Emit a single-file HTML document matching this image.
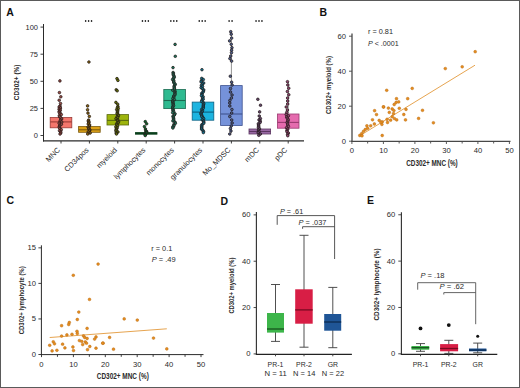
<!DOCTYPE html>
<html><head><meta charset="utf-8"><style>
html,body{margin:0;padding:0;background:#fff;}
svg{display:block;font-family:"Liberation Sans", sans-serif;}
</style></head><body>
<svg width="520" height="388" viewBox="0 0 520 388">
<rect width="520" height="388" fill="#fff"/>
<text x="6.30" y="15.90" font-size="10.5" text-anchor="start" font-weight="bold" font-style="normal" fill="#111" textLength="7.58" lengthAdjust="spacingAndGlyphs" >A</text>
<text x="319.60" y="15.80" font-size="10.5" text-anchor="start" font-weight="bold" font-style="normal" fill="#111" textLength="7.58" lengthAdjust="spacingAndGlyphs" >B</text>
<text x="6.60" y="204.30" font-size="10.5" text-anchor="start" font-weight="bold" font-style="normal" fill="#111" textLength="7.58" lengthAdjust="spacingAndGlyphs" >C</text>
<text x="220.60" y="204.60" font-size="10.5" text-anchor="start" font-weight="bold" font-style="normal" fill="#111" textLength="7.58" lengthAdjust="spacingAndGlyphs" >D</text>
<text x="367.00" y="204.30" font-size="10.5" text-anchor="start" font-weight="bold" font-style="normal" fill="#111" textLength="7.00" lengthAdjust="spacingAndGlyphs" >E</text>
<line x1="43.50" y1="24.00" x2="43.50" y2="141.50" stroke="#2a2a2a" stroke-width="1"/>
<line x1="43.00" y1="140.85" x2="304.00" y2="140.85" stroke="#2a2a2a" stroke-width="1.25"/>
<line x1="40.50" y1="135.50" x2="43.50" y2="135.50" stroke="#2a2a2a" stroke-width="0.9"/>
<text x="38.00" y="137.95" font-size="6.8" text-anchor="end" font-weight="normal" font-style="normal" fill="#2a2a2a" textLength="4.16" lengthAdjust="spacingAndGlyphs" >0</text>
<line x1="40.50" y1="108.40" x2="43.50" y2="108.40" stroke="#2a2a2a" stroke-width="0.9"/>
<text x="38.00" y="110.85" font-size="6.8" text-anchor="end" font-weight="normal" font-style="normal" fill="#2a2a2a" textLength="8.32" lengthAdjust="spacingAndGlyphs" >25</text>
<line x1="40.50" y1="81.30" x2="43.50" y2="81.30" stroke="#2a2a2a" stroke-width="0.9"/>
<text x="38.00" y="83.75" font-size="6.8" text-anchor="end" font-weight="normal" font-style="normal" fill="#2a2a2a" textLength="8.32" lengthAdjust="spacingAndGlyphs" >50</text>
<line x1="40.50" y1="54.20" x2="43.50" y2="54.20" stroke="#2a2a2a" stroke-width="0.9"/>
<text x="38.00" y="56.65" font-size="6.8" text-anchor="end" font-weight="normal" font-style="normal" fill="#2a2a2a" textLength="8.32" lengthAdjust="spacingAndGlyphs" >75</text>
<line x1="40.50" y1="27.10" x2="43.50" y2="27.10" stroke="#2a2a2a" stroke-width="0.9"/>
<text x="38.00" y="29.55" font-size="6.8" text-anchor="end" font-weight="normal" font-style="normal" fill="#2a2a2a" textLength="12.48" lengthAdjust="spacingAndGlyphs" >100</text>
<line x1="61.00" y1="141.00" x2="61.00" y2="143.50" stroke="#2a2a2a" stroke-width="0.9"/>
<text transform="translate(56.70,146.60) rotate(-45)" font-size="7.4" text-anchor="end" fill="#2a2a2a" dominant-baseline="hanging">MNC</text>
<line x1="89.40" y1="141.00" x2="89.40" y2="143.50" stroke="#2a2a2a" stroke-width="0.9"/>
<text transform="translate(85.10,146.60) rotate(-45)" font-size="7.4" text-anchor="end" fill="#2a2a2a" dominant-baseline="hanging">CD34pos</text>
<line x1="117.80" y1="141.00" x2="117.80" y2="143.50" stroke="#2a2a2a" stroke-width="0.9"/>
<text transform="translate(113.50,146.60) rotate(-45)" font-size="7.4" text-anchor="end" fill="#2a2a2a" dominant-baseline="hanging">myeloid</text>
<line x1="146.20" y1="141.00" x2="146.20" y2="143.50" stroke="#2a2a2a" stroke-width="0.9"/>
<text transform="translate(141.90,146.60) rotate(-45)" font-size="7.4" text-anchor="end" fill="#2a2a2a" dominant-baseline="hanging">lymphocytes</text>
<line x1="174.60" y1="141.00" x2="174.60" y2="143.50" stroke="#2a2a2a" stroke-width="0.9"/>
<text transform="translate(170.30,146.60) rotate(-45)" font-size="7.4" text-anchor="end" fill="#2a2a2a" dominant-baseline="hanging">monocytes</text>
<line x1="203.00" y1="141.00" x2="203.00" y2="143.50" stroke="#2a2a2a" stroke-width="0.9"/>
<text transform="translate(198.70,146.60) rotate(-45)" font-size="7.4" text-anchor="end" fill="#2a2a2a" dominant-baseline="hanging">granulocytes</text>
<line x1="231.40" y1="141.00" x2="231.40" y2="143.50" stroke="#2a2a2a" stroke-width="0.9"/>
<text transform="translate(227.10,146.60) rotate(-45)" font-size="7.4" text-anchor="end" fill="#2a2a2a" dominant-baseline="hanging">Mo_MDSC</text>
<line x1="259.80" y1="141.00" x2="259.80" y2="143.50" stroke="#2a2a2a" stroke-width="0.9"/>
<text transform="translate(255.50,146.60) rotate(-45)" font-size="7.4" text-anchor="end" fill="#2a2a2a" dominant-baseline="hanging">mDC</text>
<line x1="288.20" y1="141.00" x2="288.20" y2="143.50" stroke="#2a2a2a" stroke-width="0.9"/>
<text transform="translate(283.90,146.60) rotate(-45)" font-size="7.4" text-anchor="end" fill="#2a2a2a" dominant-baseline="hanging">pDC</text>
<ellipse cx="85.65" cy="21" rx="0.8" ry="0.95" fill="#222"/>
<ellipse cx="88.60" cy="21" rx="0.8" ry="0.95" fill="#222"/>
<ellipse cx="91.55" cy="21" rx="0.8" ry="0.95" fill="#222"/>
<ellipse cx="142.45" cy="21" rx="0.8" ry="0.95" fill="#222"/>
<ellipse cx="145.40" cy="21" rx="0.8" ry="0.95" fill="#222"/>
<ellipse cx="148.35" cy="21" rx="0.8" ry="0.95" fill="#222"/>
<ellipse cx="170.85" cy="21" rx="0.8" ry="0.95" fill="#222"/>
<ellipse cx="173.80" cy="21" rx="0.8" ry="0.95" fill="#222"/>
<ellipse cx="176.75" cy="21" rx="0.8" ry="0.95" fill="#222"/>
<ellipse cx="199.25" cy="21" rx="0.8" ry="0.95" fill="#222"/>
<ellipse cx="202.20" cy="21" rx="0.8" ry="0.95" fill="#222"/>
<ellipse cx="205.15" cy="21" rx="0.8" ry="0.95" fill="#222"/>
<ellipse cx="229.12" cy="21" rx="0.8" ry="0.95" fill="#222"/>
<ellipse cx="232.07" cy="21" rx="0.8" ry="0.95" fill="#222"/>
<ellipse cx="256.05" cy="21" rx="0.8" ry="0.95" fill="#222"/>
<ellipse cx="259.00" cy="21" rx="0.8" ry="0.95" fill="#222"/>
<ellipse cx="261.95" cy="21" rx="0.8" ry="0.95" fill="#222"/>
<line x1="61.00" y1="106.00" x2="61.00" y2="117.50" stroke="#777" stroke-width="0.8"/>
<line x1="61.00" y1="127.80" x2="61.00" y2="134.00" stroke="#777" stroke-width="0.8"/>
<rect x="50.20" y="117.50" width="21.60" height="10.30" fill="#F4766C" stroke="#9a3a35" stroke-width="0.8"/>
<line x1="50.20" y1="121.90" x2="71.80" y2="121.90" stroke="#9a3a35" stroke-width="1.1"/>
<line x1="89.40" y1="120.00" x2="89.40" y2="126.50" stroke="#777" stroke-width="0.8"/>
<line x1="89.40" y1="132.30" x2="89.40" y2="134.00" stroke="#777" stroke-width="0.8"/>
<rect x="78.60" y="126.50" width="21.60" height="5.80" fill="#DCA016" stroke="#7a5a10" stroke-width="0.8"/>
<line x1="78.60" y1="129.80" x2="100.20" y2="129.80" stroke="#7a5a10" stroke-width="1.1"/>
<line x1="117.80" y1="107.00" x2="117.80" y2="114.60" stroke="#777" stroke-width="0.8"/>
<line x1="117.80" y1="125.00" x2="117.80" y2="134.00" stroke="#777" stroke-width="0.8"/>
<rect x="107.00" y="114.60" width="21.60" height="10.40" fill="#9DB40C" stroke="#5a6a10" stroke-width="0.8"/>
<line x1="107.00" y1="120.40" x2="128.60" y2="120.40" stroke="#5a6a10" stroke-width="1.1"/>
<line x1="146.20" y1="131.00" x2="146.20" y2="132.60" stroke="#777" stroke-width="0.8"/>
<line x1="146.20" y1="134.20" x2="146.20" y2="135.50" stroke="#777" stroke-width="0.8"/>
<rect x="135.40" y="132.60" width="21.60" height="1.60" fill="#10A040" stroke="#0a3a1a" stroke-width="0.8"/>
<line x1="135.40" y1="133.40" x2="157.00" y2="133.40" stroke="#0a3a1a" stroke-width="1.1"/>
<line x1="174.60" y1="72.00" x2="174.60" y2="89.50" stroke="#777" stroke-width="0.8"/>
<line x1="174.60" y1="108.60" x2="174.60" y2="128.00" stroke="#777" stroke-width="0.8"/>
<rect x="163.80" y="89.50" width="21.60" height="19.10" fill="#2EBA90" stroke="#1a6a50" stroke-width="0.8"/>
<line x1="163.80" y1="100.50" x2="185.40" y2="100.50" stroke="#1a6a50" stroke-width="1.1"/>
<line x1="203.00" y1="78.00" x2="203.00" y2="102.10" stroke="#777" stroke-width="0.8"/>
<line x1="203.00" y1="120.20" x2="203.00" y2="132.60" stroke="#777" stroke-width="0.8"/>
<rect x="192.20" y="102.10" width="21.60" height="18.10" fill="#1CB4E0" stroke="#0b6080" stroke-width="0.8"/>
<line x1="192.20" y1="112.10" x2="213.80" y2="112.10" stroke="#0b6080" stroke-width="1.1"/>
<line x1="231.40" y1="30.80" x2="231.40" y2="85.60" stroke="#777" stroke-width="0.8"/>
<line x1="231.40" y1="125.50" x2="231.40" y2="133.00" stroke="#777" stroke-width="0.8"/>
<rect x="220.60" y="85.60" width="21.60" height="39.90" fill="#7592DA" stroke="#3e5290" stroke-width="0.8"/>
<line x1="220.60" y1="114.00" x2="242.20" y2="114.00" stroke="#3e5290" stroke-width="1.1"/>
<line x1="259.80" y1="118.00" x2="259.80" y2="129.00" stroke="#777" stroke-width="0.8"/>
<line x1="259.80" y1="134.00" x2="259.80" y2="135.30" stroke="#777" stroke-width="0.8"/>
<rect x="249.00" y="129.00" width="21.60" height="5.00" fill="#9B6BA6" stroke="#5a3560" stroke-width="0.8"/>
<line x1="249.00" y1="131.50" x2="270.60" y2="131.50" stroke="#5a3560" stroke-width="1.1"/>
<line x1="288.20" y1="81.70" x2="288.20" y2="114.00" stroke="#777" stroke-width="0.8"/>
<line x1="288.20" y1="128.20" x2="288.20" y2="135.70" stroke="#777" stroke-width="0.8"/>
<rect x="277.40" y="114.00" width="21.60" height="14.20" fill="#E56BAE" stroke="#9a3a70" stroke-width="0.8"/>
<line x1="277.40" y1="122.40" x2="299.00" y2="122.40" stroke="#9a3a70" stroke-width="1.1"/>
<circle cx="59.91" cy="80.90" r="1.3" fill="#9f4d46" stroke="#221818" stroke-width="0.75"/>
<circle cx="59.42" cy="92.60" r="1.3" fill="#9f4d46" stroke="#221818" stroke-width="0.75"/>
<circle cx="60.82" cy="96.80" r="1.3" fill="#9f4d46" stroke="#221818" stroke-width="0.75"/>
<circle cx="59.20" cy="100.20" r="1.3" fill="#9f4d46" stroke="#221818" stroke-width="0.75"/>
<circle cx="60.50" cy="103.50" r="1.3" fill="#9f4d46" stroke="#221818" stroke-width="0.75"/>
<circle cx="60.02" cy="106.00" r="1.3" fill="#9f4d46" stroke="#221818" stroke-width="0.75"/>
<circle cx="59.16" cy="107.00" r="1.3" fill="#9f4d46" stroke="#221818" stroke-width="0.75"/>
<circle cx="60.42" cy="108.08" r="1.3" fill="#9f4d46" stroke="#221818" stroke-width="0.75"/>
<circle cx="59.10" cy="109.16" r="1.3" fill="#9f4d46" stroke="#221818" stroke-width="0.75"/>
<circle cx="60.21" cy="110.24" r="1.3" fill="#9f4d46" stroke="#221818" stroke-width="0.75"/>
<circle cx="59.20" cy="111.32" r="1.3" fill="#9f4d46" stroke="#221818" stroke-width="0.75"/>
<circle cx="59.25" cy="112.40" r="1.3" fill="#9f4d46" stroke="#221818" stroke-width="0.75"/>
<circle cx="60.19" cy="113.48" r="1.3" fill="#9f4d46" stroke="#221818" stroke-width="0.75"/>
<circle cx="61.32" cy="114.56" r="1.3" fill="#9f4d46" stroke="#221818" stroke-width="0.75"/>
<circle cx="59.35" cy="115.64" r="1.3" fill="#9f4d46" stroke="#221818" stroke-width="0.75"/>
<circle cx="59.63" cy="116.72" r="1.3" fill="#9f4d46" stroke="#221818" stroke-width="0.75"/>
<circle cx="60.76" cy="117.80" r="1.3" fill="#9f4d46" stroke="#221818" stroke-width="0.75"/>
<circle cx="61.65" cy="118.88" r="1.3" fill="#9f4d46" stroke="#221818" stroke-width="0.75"/>
<circle cx="60.62" cy="119.96" r="1.3" fill="#9f4d46" stroke="#221818" stroke-width="0.75"/>
<circle cx="60.11" cy="121.04" r="1.3" fill="#9f4d46" stroke="#221818" stroke-width="0.75"/>
<circle cx="61.73" cy="122.12" r="1.3" fill="#9f4d46" stroke="#221818" stroke-width="0.75"/>
<circle cx="59.13" cy="123.20" r="1.3" fill="#9f4d46" stroke="#221818" stroke-width="0.75"/>
<circle cx="61.40" cy="124.28" r="1.3" fill="#9f4d46" stroke="#221818" stroke-width="0.75"/>
<circle cx="59.81" cy="125.36" r="1.3" fill="#9f4d46" stroke="#221818" stroke-width="0.75"/>
<circle cx="59.40" cy="126.44" r="1.3" fill="#9f4d46" stroke="#221818" stroke-width="0.75"/>
<circle cx="59.33" cy="127.52" r="1.3" fill="#9f4d46" stroke="#221818" stroke-width="0.75"/>
<circle cx="59.86" cy="128.60" r="1.3" fill="#9f4d46" stroke="#221818" stroke-width="0.75"/>
<circle cx="61.29" cy="129.68" r="1.3" fill="#9f4d46" stroke="#221818" stroke-width="0.75"/>
<circle cx="59.51" cy="130.76" r="1.3" fill="#9f4d46" stroke="#221818" stroke-width="0.75"/>
<circle cx="60.63" cy="131.84" r="1.3" fill="#9f4d46" stroke="#221818" stroke-width="0.75"/>
<circle cx="60.79" cy="132.92" r="1.3" fill="#9f4d46" stroke="#221818" stroke-width="0.75"/>
<circle cx="60.04" cy="134.00" r="1.3" fill="#9f4d46" stroke="#221818" stroke-width="0.75"/>
<circle cx="88.93" cy="62.00" r="1.3" fill="#8f680e" stroke="#221818" stroke-width="0.75"/>
<circle cx="87.58" cy="105.90" r="1.3" fill="#8f680e" stroke="#221818" stroke-width="0.75"/>
<circle cx="87.57" cy="109.80" r="1.3" fill="#8f680e" stroke="#221818" stroke-width="0.75"/>
<circle cx="87.98" cy="113.10" r="1.3" fill="#8f680e" stroke="#221818" stroke-width="0.75"/>
<circle cx="89.31" cy="116.40" r="1.3" fill="#8f680e" stroke="#221818" stroke-width="0.75"/>
<circle cx="88.60" cy="120.10" r="1.3" fill="#8f680e" stroke="#221818" stroke-width="0.75"/>
<circle cx="88.28" cy="121.00" r="1.3" fill="#8f680e" stroke="#221818" stroke-width="0.75"/>
<circle cx="89.04" cy="122.00" r="1.3" fill="#8f680e" stroke="#221818" stroke-width="0.75"/>
<circle cx="88.67" cy="123.00" r="1.3" fill="#8f680e" stroke="#221818" stroke-width="0.75"/>
<circle cx="88.24" cy="124.00" r="1.3" fill="#8f680e" stroke="#221818" stroke-width="0.75"/>
<circle cx="89.62" cy="125.00" r="1.3" fill="#8f680e" stroke="#221818" stroke-width="0.75"/>
<circle cx="89.36" cy="126.00" r="1.3" fill="#8f680e" stroke="#221818" stroke-width="0.75"/>
<circle cx="88.08" cy="127.00" r="1.3" fill="#8f680e" stroke="#221818" stroke-width="0.75"/>
<circle cx="89.01" cy="128.00" r="1.3" fill="#8f680e" stroke="#221818" stroke-width="0.75"/>
<circle cx="88.87" cy="129.00" r="1.3" fill="#8f680e" stroke="#221818" stroke-width="0.75"/>
<circle cx="89.85" cy="130.00" r="1.3" fill="#8f680e" stroke="#221818" stroke-width="0.75"/>
<circle cx="89.44" cy="131.00" r="1.3" fill="#8f680e" stroke="#221818" stroke-width="0.75"/>
<circle cx="88.21" cy="132.00" r="1.3" fill="#8f680e" stroke="#221818" stroke-width="0.75"/>
<circle cx="90.14" cy="133.00" r="1.3" fill="#8f680e" stroke="#221818" stroke-width="0.75"/>
<circle cx="87.73" cy="134.00" r="1.3" fill="#8f680e" stroke="#221818" stroke-width="0.75"/>
<circle cx="116.97" cy="78.60" r="1.3" fill="#667508" stroke="#221818" stroke-width="0.75"/>
<circle cx="117.92" cy="80.40" r="1.3" fill="#667508" stroke="#221818" stroke-width="0.75"/>
<circle cx="116.23" cy="89.80" r="1.3" fill="#667508" stroke="#221818" stroke-width="0.75"/>
<circle cx="117.17" cy="90.80" r="1.3" fill="#667508" stroke="#221818" stroke-width="0.75"/>
<circle cx="115.91" cy="102.40" r="1.3" fill="#667508" stroke="#221818" stroke-width="0.75"/>
<circle cx="117.67" cy="104.20" r="1.3" fill="#667508" stroke="#221818" stroke-width="0.75"/>
<circle cx="117.94" cy="106.50" r="1.3" fill="#667508" stroke="#221818" stroke-width="0.75"/>
<circle cx="117.40" cy="107.52" r="1.3" fill="#667508" stroke="#221818" stroke-width="0.75"/>
<circle cx="118.25" cy="108.54" r="1.3" fill="#667508" stroke="#221818" stroke-width="0.75"/>
<circle cx="116.68" cy="109.56" r="1.3" fill="#667508" stroke="#221818" stroke-width="0.75"/>
<circle cx="117.75" cy="110.57" r="1.3" fill="#667508" stroke="#221818" stroke-width="0.75"/>
<circle cx="117.46" cy="111.59" r="1.3" fill="#667508" stroke="#221818" stroke-width="0.75"/>
<circle cx="117.42" cy="112.61" r="1.3" fill="#667508" stroke="#221818" stroke-width="0.75"/>
<circle cx="117.08" cy="113.63" r="1.3" fill="#667508" stroke="#221818" stroke-width="0.75"/>
<circle cx="118.15" cy="114.65" r="1.3" fill="#667508" stroke="#221818" stroke-width="0.75"/>
<circle cx="118.45" cy="115.67" r="1.3" fill="#667508" stroke="#221818" stroke-width="0.75"/>
<circle cx="117.13" cy="116.69" r="1.3" fill="#667508" stroke="#221818" stroke-width="0.75"/>
<circle cx="117.66" cy="117.70" r="1.3" fill="#667508" stroke="#221818" stroke-width="0.75"/>
<circle cx="115.97" cy="118.72" r="1.3" fill="#667508" stroke="#221818" stroke-width="0.75"/>
<circle cx="117.76" cy="119.74" r="1.3" fill="#667508" stroke="#221818" stroke-width="0.75"/>
<circle cx="117.61" cy="120.76" r="1.3" fill="#667508" stroke="#221818" stroke-width="0.75"/>
<circle cx="118.58" cy="121.78" r="1.3" fill="#667508" stroke="#221818" stroke-width="0.75"/>
<circle cx="118.10" cy="122.80" r="1.3" fill="#667508" stroke="#221818" stroke-width="0.75"/>
<circle cx="116.60" cy="123.81" r="1.3" fill="#667508" stroke="#221818" stroke-width="0.75"/>
<circle cx="116.88" cy="124.83" r="1.3" fill="#667508" stroke="#221818" stroke-width="0.75"/>
<circle cx="117.67" cy="125.85" r="1.3" fill="#667508" stroke="#221818" stroke-width="0.75"/>
<circle cx="115.86" cy="126.87" r="1.3" fill="#667508" stroke="#221818" stroke-width="0.75"/>
<circle cx="117.09" cy="127.89" r="1.3" fill="#667508" stroke="#221818" stroke-width="0.75"/>
<circle cx="116.27" cy="128.91" r="1.3" fill="#667508" stroke="#221818" stroke-width="0.75"/>
<circle cx="116.13" cy="129.93" r="1.3" fill="#667508" stroke="#221818" stroke-width="0.75"/>
<circle cx="115.97" cy="130.94" r="1.3" fill="#667508" stroke="#221818" stroke-width="0.75"/>
<circle cx="117.95" cy="131.96" r="1.3" fill="#667508" stroke="#221818" stroke-width="0.75"/>
<circle cx="116.16" cy="132.98" r="1.3" fill="#667508" stroke="#221818" stroke-width="0.75"/>
<circle cx="116.49" cy="134.00" r="1.3" fill="#667508" stroke="#221818" stroke-width="0.75"/>
<circle cx="145.29" cy="121.60" r="1.3" fill="#0a682a" stroke="#221818" stroke-width="0.75"/>
<circle cx="146.64" cy="123.80" r="1.3" fill="#0a682a" stroke="#221818" stroke-width="0.75"/>
<circle cx="144.43" cy="126.60" r="1.3" fill="#0a682a" stroke="#221818" stroke-width="0.75"/>
<circle cx="145.46" cy="129.00" r="1.3" fill="#0a682a" stroke="#221818" stroke-width="0.75"/>
<circle cx="145.74" cy="130.90" r="1.3" fill="#0a682a" stroke="#221818" stroke-width="0.75"/>
<circle cx="146.67" cy="131.50" r="1.3" fill="#0a682a" stroke="#221818" stroke-width="0.75"/>
<circle cx="146.49" cy="132.30" r="1.3" fill="#0a682a" stroke="#221818" stroke-width="0.75"/>
<circle cx="146.62" cy="133.10" r="1.3" fill="#0a682a" stroke="#221818" stroke-width="0.75"/>
<circle cx="144.98" cy="133.90" r="1.3" fill="#0a682a" stroke="#221818" stroke-width="0.75"/>
<circle cx="145.36" cy="134.70" r="1.3" fill="#0a682a" stroke="#221818" stroke-width="0.75"/>
<circle cx="145.20" cy="135.50" r="1.3" fill="#0a682a" stroke="#221818" stroke-width="0.75"/>
<circle cx="175.08" cy="44.40" r="1.3" fill="#1e795e" stroke="#221818" stroke-width="0.75"/>
<circle cx="175.28" cy="56.30" r="1.3" fill="#1e795e" stroke="#221818" stroke-width="0.75"/>
<circle cx="173.02" cy="67.60" r="1.3" fill="#1e795e" stroke="#221818" stroke-width="0.75"/>
<circle cx="173.09" cy="72.50" r="1.3" fill="#1e795e" stroke="#221818" stroke-width="0.75"/>
<circle cx="173.25" cy="73.68" r="1.3" fill="#1e795e" stroke="#221818" stroke-width="0.75"/>
<circle cx="173.25" cy="74.86" r="1.3" fill="#1e795e" stroke="#221818" stroke-width="0.75"/>
<circle cx="173.96" cy="76.04" r="1.3" fill="#1e795e" stroke="#221818" stroke-width="0.75"/>
<circle cx="174.25" cy="77.22" r="1.3" fill="#1e795e" stroke="#221818" stroke-width="0.75"/>
<circle cx="173.34" cy="78.40" r="1.3" fill="#1e795e" stroke="#221818" stroke-width="0.75"/>
<circle cx="172.61" cy="79.59" r="1.3" fill="#1e795e" stroke="#221818" stroke-width="0.75"/>
<circle cx="173.77" cy="80.77" r="1.3" fill="#1e795e" stroke="#221818" stroke-width="0.75"/>
<circle cx="173.63" cy="81.95" r="1.3" fill="#1e795e" stroke="#221818" stroke-width="0.75"/>
<circle cx="174.19" cy="83.13" r="1.3" fill="#1e795e" stroke="#221818" stroke-width="0.75"/>
<circle cx="175.27" cy="84.31" r="1.3" fill="#1e795e" stroke="#221818" stroke-width="0.75"/>
<circle cx="174.53" cy="85.49" r="1.3" fill="#1e795e" stroke="#221818" stroke-width="0.75"/>
<circle cx="174.04" cy="86.67" r="1.3" fill="#1e795e" stroke="#221818" stroke-width="0.75"/>
<circle cx="174.33" cy="87.85" r="1.3" fill="#1e795e" stroke="#221818" stroke-width="0.75"/>
<circle cx="174.49" cy="89.03" r="1.3" fill="#1e795e" stroke="#221818" stroke-width="0.75"/>
<circle cx="172.75" cy="90.21" r="1.3" fill="#1e795e" stroke="#221818" stroke-width="0.75"/>
<circle cx="175.12" cy="91.39" r="1.3" fill="#1e795e" stroke="#221818" stroke-width="0.75"/>
<circle cx="174.78" cy="92.57" r="1.3" fill="#1e795e" stroke="#221818" stroke-width="0.75"/>
<circle cx="175.05" cy="93.76" r="1.3" fill="#1e795e" stroke="#221818" stroke-width="0.75"/>
<circle cx="174.83" cy="94.94" r="1.3" fill="#1e795e" stroke="#221818" stroke-width="0.75"/>
<circle cx="173.70" cy="96.12" r="1.3" fill="#1e795e" stroke="#221818" stroke-width="0.75"/>
<circle cx="173.72" cy="97.30" r="1.3" fill="#1e795e" stroke="#221818" stroke-width="0.75"/>
<circle cx="172.89" cy="98.48" r="1.3" fill="#1e795e" stroke="#221818" stroke-width="0.75"/>
<circle cx="174.38" cy="99.66" r="1.3" fill="#1e795e" stroke="#221818" stroke-width="0.75"/>
<circle cx="172.77" cy="100.84" r="1.3" fill="#1e795e" stroke="#221818" stroke-width="0.75"/>
<circle cx="172.79" cy="102.02" r="1.3" fill="#1e795e" stroke="#221818" stroke-width="0.75"/>
<circle cx="173.18" cy="103.20" r="1.3" fill="#1e795e" stroke="#221818" stroke-width="0.75"/>
<circle cx="173.05" cy="104.38" r="1.3" fill="#1e795e" stroke="#221818" stroke-width="0.75"/>
<circle cx="173.55" cy="105.56" r="1.3" fill="#1e795e" stroke="#221818" stroke-width="0.75"/>
<circle cx="172.75" cy="106.74" r="1.3" fill="#1e795e" stroke="#221818" stroke-width="0.75"/>
<circle cx="172.60" cy="107.93" r="1.3" fill="#1e795e" stroke="#221818" stroke-width="0.75"/>
<circle cx="173.02" cy="109.11" r="1.3" fill="#1e795e" stroke="#221818" stroke-width="0.75"/>
<circle cx="172.88" cy="110.29" r="1.3" fill="#1e795e" stroke="#221818" stroke-width="0.75"/>
<circle cx="173.62" cy="111.47" r="1.3" fill="#1e795e" stroke="#221818" stroke-width="0.75"/>
<circle cx="172.67" cy="112.65" r="1.3" fill="#1e795e" stroke="#221818" stroke-width="0.75"/>
<circle cx="175.05" cy="113.83" r="1.3" fill="#1e795e" stroke="#221818" stroke-width="0.75"/>
<circle cx="174.32" cy="115.01" r="1.3" fill="#1e795e" stroke="#221818" stroke-width="0.75"/>
<circle cx="173.02" cy="116.19" r="1.3" fill="#1e795e" stroke="#221818" stroke-width="0.75"/>
<circle cx="173.31" cy="117.37" r="1.3" fill="#1e795e" stroke="#221818" stroke-width="0.75"/>
<circle cx="173.57" cy="118.55" r="1.3" fill="#1e795e" stroke="#221818" stroke-width="0.75"/>
<circle cx="173.62" cy="119.73" r="1.3" fill="#1e795e" stroke="#221818" stroke-width="0.75"/>
<circle cx="172.94" cy="120.91" r="1.3" fill="#1e795e" stroke="#221818" stroke-width="0.75"/>
<circle cx="174.98" cy="122.10" r="1.3" fill="#1e795e" stroke="#221818" stroke-width="0.75"/>
<circle cx="175.38" cy="123.28" r="1.3" fill="#1e795e" stroke="#221818" stroke-width="0.75"/>
<circle cx="173.90" cy="124.46" r="1.3" fill="#1e795e" stroke="#221818" stroke-width="0.75"/>
<circle cx="173.95" cy="125.64" r="1.3" fill="#1e795e" stroke="#221818" stroke-width="0.75"/>
<circle cx="172.84" cy="126.82" r="1.3" fill="#1e795e" stroke="#221818" stroke-width="0.75"/>
<circle cx="172.89" cy="128.00" r="1.3" fill="#1e795e" stroke="#221818" stroke-width="0.75"/>
<circle cx="201.96" cy="69.70" r="1.3" fill="#127592" stroke="#221818" stroke-width="0.75"/>
<circle cx="201.74" cy="78.40" r="1.3" fill="#127592" stroke="#221818" stroke-width="0.75"/>
<circle cx="203.32" cy="79.55" r="1.3" fill="#127592" stroke="#221818" stroke-width="0.75"/>
<circle cx="201.45" cy="80.71" r="1.3" fill="#127592" stroke="#221818" stroke-width="0.75"/>
<circle cx="201.06" cy="81.86" r="1.3" fill="#127592" stroke="#221818" stroke-width="0.75"/>
<circle cx="203.66" cy="83.01" r="1.3" fill="#127592" stroke="#221818" stroke-width="0.75"/>
<circle cx="202.48" cy="84.17" r="1.3" fill="#127592" stroke="#221818" stroke-width="0.75"/>
<circle cx="201.41" cy="85.32" r="1.3" fill="#127592" stroke="#221818" stroke-width="0.75"/>
<circle cx="202.52" cy="86.47" r="1.3" fill="#127592" stroke="#221818" stroke-width="0.75"/>
<circle cx="201.08" cy="87.63" r="1.3" fill="#127592" stroke="#221818" stroke-width="0.75"/>
<circle cx="202.48" cy="88.78" r="1.3" fill="#127592" stroke="#221818" stroke-width="0.75"/>
<circle cx="203.74" cy="89.93" r="1.3" fill="#127592" stroke="#221818" stroke-width="0.75"/>
<circle cx="203.42" cy="91.09" r="1.3" fill="#127592" stroke="#221818" stroke-width="0.75"/>
<circle cx="202.95" cy="92.24" r="1.3" fill="#127592" stroke="#221818" stroke-width="0.75"/>
<circle cx="201.73" cy="93.39" r="1.3" fill="#127592" stroke="#221818" stroke-width="0.75"/>
<circle cx="202.03" cy="94.54" r="1.3" fill="#127592" stroke="#221818" stroke-width="0.75"/>
<circle cx="201.47" cy="95.70" r="1.3" fill="#127592" stroke="#221818" stroke-width="0.75"/>
<circle cx="203.16" cy="96.85" r="1.3" fill="#127592" stroke="#221818" stroke-width="0.75"/>
<circle cx="202.49" cy="98.00" r="1.3" fill="#127592" stroke="#221818" stroke-width="0.75"/>
<circle cx="203.18" cy="99.16" r="1.3" fill="#127592" stroke="#221818" stroke-width="0.75"/>
<circle cx="201.92" cy="100.31" r="1.3" fill="#127592" stroke="#221818" stroke-width="0.75"/>
<circle cx="201.62" cy="101.46" r="1.3" fill="#127592" stroke="#221818" stroke-width="0.75"/>
<circle cx="203.27" cy="102.62" r="1.3" fill="#127592" stroke="#221818" stroke-width="0.75"/>
<circle cx="203.76" cy="103.77" r="1.3" fill="#127592" stroke="#221818" stroke-width="0.75"/>
<circle cx="203.39" cy="104.92" r="1.3" fill="#127592" stroke="#221818" stroke-width="0.75"/>
<circle cx="203.26" cy="106.08" r="1.3" fill="#127592" stroke="#221818" stroke-width="0.75"/>
<circle cx="203.29" cy="107.23" r="1.3" fill="#127592" stroke="#221818" stroke-width="0.75"/>
<circle cx="203.07" cy="108.38" r="1.3" fill="#127592" stroke="#221818" stroke-width="0.75"/>
<circle cx="201.63" cy="109.54" r="1.3" fill="#127592" stroke="#221818" stroke-width="0.75"/>
<circle cx="202.45" cy="110.69" r="1.3" fill="#127592" stroke="#221818" stroke-width="0.75"/>
<circle cx="202.00" cy="111.84" r="1.3" fill="#127592" stroke="#221818" stroke-width="0.75"/>
<circle cx="201.08" cy="113.00" r="1.3" fill="#127592" stroke="#221818" stroke-width="0.75"/>
<circle cx="201.08" cy="114.15" r="1.3" fill="#127592" stroke="#221818" stroke-width="0.75"/>
<circle cx="201.78" cy="115.30" r="1.3" fill="#127592" stroke="#221818" stroke-width="0.75"/>
<circle cx="201.73" cy="116.46" r="1.3" fill="#127592" stroke="#221818" stroke-width="0.75"/>
<circle cx="202.94" cy="117.61" r="1.3" fill="#127592" stroke="#221818" stroke-width="0.75"/>
<circle cx="203.68" cy="118.76" r="1.3" fill="#127592" stroke="#221818" stroke-width="0.75"/>
<circle cx="202.25" cy="119.91" r="1.3" fill="#127592" stroke="#221818" stroke-width="0.75"/>
<circle cx="203.62" cy="121.07" r="1.3" fill="#127592" stroke="#221818" stroke-width="0.75"/>
<circle cx="203.77" cy="122.22" r="1.3" fill="#127592" stroke="#221818" stroke-width="0.75"/>
<circle cx="203.67" cy="123.37" r="1.3" fill="#127592" stroke="#221818" stroke-width="0.75"/>
<circle cx="202.02" cy="124.53" r="1.3" fill="#127592" stroke="#221818" stroke-width="0.75"/>
<circle cx="201.62" cy="125.68" r="1.3" fill="#127592" stroke="#221818" stroke-width="0.75"/>
<circle cx="201.64" cy="126.83" r="1.3" fill="#127592" stroke="#221818" stroke-width="0.75"/>
<circle cx="201.55" cy="127.99" r="1.3" fill="#127592" stroke="#221818" stroke-width="0.75"/>
<circle cx="201.57" cy="129.14" r="1.3" fill="#127592" stroke="#221818" stroke-width="0.75"/>
<circle cx="202.75" cy="130.29" r="1.3" fill="#127592" stroke="#221818" stroke-width="0.75"/>
<circle cx="203.52" cy="131.45" r="1.3" fill="#127592" stroke="#221818" stroke-width="0.75"/>
<circle cx="203.35" cy="132.60" r="1.3" fill="#127592" stroke="#221818" stroke-width="0.75"/>
<circle cx="230.74" cy="31.70" r="1.3" fill="#4c5f8e" stroke="#221818" stroke-width="0.75"/>
<circle cx="231.23" cy="34.20" r="1.3" fill="#4c5f8e" stroke="#221818" stroke-width="0.75"/>
<circle cx="231.64" cy="38.10" r="1.3" fill="#4c5f8e" stroke="#221818" stroke-width="0.75"/>
<circle cx="229.64" cy="40.90" r="1.3" fill="#4c5f8e" stroke="#221818" stroke-width="0.75"/>
<circle cx="231.25" cy="44.30" r="1.3" fill="#4c5f8e" stroke="#221818" stroke-width="0.75"/>
<circle cx="231.95" cy="47.70" r="1.3" fill="#4c5f8e" stroke="#221818" stroke-width="0.75"/>
<circle cx="231.59" cy="50.20" r="1.3" fill="#4c5f8e" stroke="#221818" stroke-width="0.75"/>
<circle cx="231.50" cy="52.70" r="1.3" fill="#4c5f8e" stroke="#221818" stroke-width="0.75"/>
<circle cx="230.74" cy="56.00" r="1.3" fill="#4c5f8e" stroke="#221818" stroke-width="0.75"/>
<circle cx="229.90" cy="58.60" r="1.3" fill="#4c5f8e" stroke="#221818" stroke-width="0.75"/>
<circle cx="231.61" cy="61.10" r="1.3" fill="#4c5f8e" stroke="#221818" stroke-width="0.75"/>
<circle cx="230.33" cy="76.20" r="1.3" fill="#4c5f8e" stroke="#221818" stroke-width="0.75"/>
<circle cx="231.64" cy="82.20" r="1.3" fill="#4c5f8e" stroke="#221818" stroke-width="0.75"/>
<circle cx="232.12" cy="85.00" r="1.3" fill="#4c5f8e" stroke="#221818" stroke-width="0.75"/>
<circle cx="230.51" cy="88.50" r="1.3" fill="#4c5f8e" stroke="#221818" stroke-width="0.75"/>
<circle cx="230.52" cy="92.00" r="1.3" fill="#4c5f8e" stroke="#221818" stroke-width="0.75"/>
<circle cx="232.05" cy="95.00" r="1.3" fill="#4c5f8e" stroke="#221818" stroke-width="0.75"/>
<circle cx="231.43" cy="98.00" r="1.3" fill="#4c5f8e" stroke="#221818" stroke-width="0.75"/>
<circle cx="229.88" cy="100.50" r="1.3" fill="#4c5f8e" stroke="#221818" stroke-width="0.75"/>
<circle cx="229.76" cy="103.00" r="1.3" fill="#4c5f8e" stroke="#221818" stroke-width="0.75"/>
<circle cx="229.82" cy="106.00" r="1.3" fill="#4c5f8e" stroke="#221818" stroke-width="0.75"/>
<circle cx="231.93" cy="109.50" r="1.3" fill="#4c5f8e" stroke="#221818" stroke-width="0.75"/>
<circle cx="231.66" cy="113.00" r="1.3" fill="#4c5f8e" stroke="#221818" stroke-width="0.75"/>
<circle cx="229.81" cy="116.50" r="1.3" fill="#4c5f8e" stroke="#221818" stroke-width="0.75"/>
<circle cx="231.71" cy="120.00" r="1.3" fill="#4c5f8e" stroke="#221818" stroke-width="0.75"/>
<circle cx="232.14" cy="123.00" r="1.3" fill="#4c5f8e" stroke="#221818" stroke-width="0.75"/>
<circle cx="231.24" cy="126.00" r="1.3" fill="#4c5f8e" stroke="#221818" stroke-width="0.75"/>
<circle cx="230.38" cy="128.50" r="1.3" fill="#4c5f8e" stroke="#221818" stroke-width="0.75"/>
<circle cx="230.94" cy="131.00" r="1.3" fill="#4c5f8e" stroke="#221818" stroke-width="0.75"/>
<circle cx="229.77" cy="134.00" r="1.3" fill="#4c5f8e" stroke="#221818" stroke-width="0.75"/>
<circle cx="257.84" cy="99.30" r="1.3" fill="#65466c" stroke="#221818" stroke-width="0.75"/>
<circle cx="260.52" cy="105.20" r="1.3" fill="#65466c" stroke="#221818" stroke-width="0.75"/>
<circle cx="259.62" cy="111.90" r="1.3" fill="#65466c" stroke="#221818" stroke-width="0.75"/>
<circle cx="259.27" cy="116.00" r="1.3" fill="#65466c" stroke="#221818" stroke-width="0.75"/>
<circle cx="260.41" cy="118.60" r="1.3" fill="#65466c" stroke="#221818" stroke-width="0.75"/>
<circle cx="259.01" cy="119.88" r="1.3" fill="#65466c" stroke="#221818" stroke-width="0.75"/>
<circle cx="260.24" cy="121.17" r="1.3" fill="#65466c" stroke="#221818" stroke-width="0.75"/>
<circle cx="260.11" cy="122.45" r="1.3" fill="#65466c" stroke="#221818" stroke-width="0.75"/>
<circle cx="258.39" cy="123.74" r="1.3" fill="#65466c" stroke="#221818" stroke-width="0.75"/>
<circle cx="258.51" cy="125.02" r="1.3" fill="#65466c" stroke="#221818" stroke-width="0.75"/>
<circle cx="258.62" cy="126.31" r="1.3" fill="#65466c" stroke="#221818" stroke-width="0.75"/>
<circle cx="258.47" cy="127.59" r="1.3" fill="#65466c" stroke="#221818" stroke-width="0.75"/>
<circle cx="259.44" cy="128.88" r="1.3" fill="#65466c" stroke="#221818" stroke-width="0.75"/>
<circle cx="258.53" cy="130.16" r="1.3" fill="#65466c" stroke="#221818" stroke-width="0.75"/>
<circle cx="258.97" cy="131.45" r="1.3" fill="#65466c" stroke="#221818" stroke-width="0.75"/>
<circle cx="258.17" cy="132.73" r="1.3" fill="#65466c" stroke="#221818" stroke-width="0.75"/>
<circle cx="260.35" cy="134.02" r="1.3" fill="#65466c" stroke="#221818" stroke-width="0.75"/>
<circle cx="258.79" cy="135.30" r="1.3" fill="#65466c" stroke="#221818" stroke-width="0.75"/>
<circle cx="287.48" cy="81.70" r="1.3" fill="#954671" stroke="#221818" stroke-width="0.75"/>
<circle cx="287.83" cy="85.00" r="1.3" fill="#954671" stroke="#221818" stroke-width="0.75"/>
<circle cx="288.73" cy="88.20" r="1.3" fill="#954671" stroke="#221818" stroke-width="0.75"/>
<circle cx="287.38" cy="91.50" r="1.3" fill="#954671" stroke="#221818" stroke-width="0.75"/>
<circle cx="288.77" cy="94.80" r="1.3" fill="#954671" stroke="#221818" stroke-width="0.75"/>
<circle cx="287.60" cy="98.00" r="1.3" fill="#954671" stroke="#221818" stroke-width="0.75"/>
<circle cx="287.69" cy="101.00" r="1.3" fill="#954671" stroke="#221818" stroke-width="0.75"/>
<circle cx="287.67" cy="104.00" r="1.3" fill="#954671" stroke="#221818" stroke-width="0.75"/>
<circle cx="286.25" cy="107.00" r="1.3" fill="#954671" stroke="#221818" stroke-width="0.75"/>
<circle cx="287.43" cy="110.00" r="1.3" fill="#954671" stroke="#221818" stroke-width="0.75"/>
<circle cx="286.71" cy="112.50" r="1.3" fill="#954671" stroke="#221818" stroke-width="0.75"/>
<circle cx="286.21" cy="114.50" r="1.3" fill="#954671" stroke="#221818" stroke-width="0.75"/>
<circle cx="288.44" cy="115.83" r="1.3" fill="#954671" stroke="#221818" stroke-width="0.75"/>
<circle cx="286.68" cy="117.15" r="1.3" fill="#954671" stroke="#221818" stroke-width="0.75"/>
<circle cx="287.53" cy="118.47" r="1.3" fill="#954671" stroke="#221818" stroke-width="0.75"/>
<circle cx="288.23" cy="119.80" r="1.3" fill="#954671" stroke="#221818" stroke-width="0.75"/>
<circle cx="287.76" cy="121.12" r="1.3" fill="#954671" stroke="#221818" stroke-width="0.75"/>
<circle cx="287.11" cy="122.45" r="1.3" fill="#954671" stroke="#221818" stroke-width="0.75"/>
<circle cx="287.65" cy="123.77" r="1.3" fill="#954671" stroke="#221818" stroke-width="0.75"/>
<circle cx="287.76" cy="125.10" r="1.3" fill="#954671" stroke="#221818" stroke-width="0.75"/>
<circle cx="288.40" cy="126.42" r="1.3" fill="#954671" stroke="#221818" stroke-width="0.75"/>
<circle cx="286.50" cy="127.75" r="1.3" fill="#954671" stroke="#221818" stroke-width="0.75"/>
<circle cx="287.77" cy="129.07" r="1.3" fill="#954671" stroke="#221818" stroke-width="0.75"/>
<circle cx="286.90" cy="130.40" r="1.3" fill="#954671" stroke="#221818" stroke-width="0.75"/>
<circle cx="286.98" cy="131.72" r="1.3" fill="#954671" stroke="#221818" stroke-width="0.75"/>
<circle cx="288.36" cy="133.05" r="1.3" fill="#954671" stroke="#221818" stroke-width="0.75"/>
<circle cx="287.62" cy="134.38" r="1.3" fill="#954671" stroke="#221818" stroke-width="0.75"/>
<circle cx="287.77" cy="135.70" r="1.3" fill="#954671" stroke="#221818" stroke-width="0.75"/>
<text transform="translate(19.3,82.4) rotate(-90)" font-size="7.8" font-weight="bold" text-anchor="middle" fill="#2a2a2a" textLength="35.6" lengthAdjust="spacingAndGlyphs">CD302+ (%)</text>
<line x1="352.00" y1="33.40" x2="352.00" y2="142.00" stroke="#484848" stroke-width="1.3"/>
<line x1="351.40" y1="141.30" x2="510.50" y2="141.30" stroke="#484848" stroke-width="1.3"/>
<line x1="349.00" y1="141.20" x2="352.00" y2="141.20" stroke="#484848" stroke-width="0.9"/>
<text x="346.00" y="143.50" font-size="6.8" text-anchor="end" font-weight="normal" font-style="normal" fill="#2a2a2a" textLength="4.24" lengthAdjust="spacingAndGlyphs" >0</text>
<line x1="349.00" y1="106.20" x2="352.00" y2="106.20" stroke="#484848" stroke-width="0.9"/>
<text x="346.00" y="108.50" font-size="6.8" text-anchor="end" font-weight="normal" font-style="normal" fill="#2a2a2a" textLength="8.47" lengthAdjust="spacingAndGlyphs" >20</text>
<line x1="349.00" y1="71.20" x2="352.00" y2="71.20" stroke="#484848" stroke-width="0.9"/>
<text x="346.00" y="73.50" font-size="6.8" text-anchor="end" font-weight="normal" font-style="normal" fill="#2a2a2a" textLength="8.47" lengthAdjust="spacingAndGlyphs" >40</text>
<line x1="349.00" y1="36.20" x2="352.00" y2="36.20" stroke="#484848" stroke-width="0.9"/>
<text x="346.00" y="38.50" font-size="6.8" text-anchor="end" font-weight="normal" font-style="normal" fill="#2a2a2a" textLength="8.47" lengthAdjust="spacingAndGlyphs" >60</text>
<line x1="351.90" y1="141.30" x2="351.90" y2="144.00" stroke="#484848" stroke-width="0.9"/>
<line x1="367.65" y1="141.30" x2="367.65" y2="143.50" stroke="#484848" stroke-width="0.9"/>
<line x1="383.40" y1="141.30" x2="383.40" y2="144.00" stroke="#484848" stroke-width="0.9"/>
<line x1="399.15" y1="141.30" x2="399.15" y2="143.50" stroke="#484848" stroke-width="0.9"/>
<line x1="414.90" y1="141.30" x2="414.90" y2="144.00" stroke="#484848" stroke-width="0.9"/>
<line x1="430.65" y1="141.30" x2="430.65" y2="143.50" stroke="#484848" stroke-width="0.9"/>
<line x1="446.40" y1="141.30" x2="446.40" y2="144.00" stroke="#484848" stroke-width="0.9"/>
<line x1="462.15" y1="141.30" x2="462.15" y2="143.50" stroke="#484848" stroke-width="0.9"/>
<line x1="477.90" y1="141.30" x2="477.90" y2="144.00" stroke="#484848" stroke-width="0.9"/>
<line x1="493.65" y1="141.30" x2="493.65" y2="143.50" stroke="#484848" stroke-width="0.9"/>
<line x1="509.40" y1="141.30" x2="509.40" y2="144.00" stroke="#484848" stroke-width="0.9"/>
<text x="351.90" y="153.20" font-size="6.8" text-anchor="middle" font-weight="normal" font-style="normal" fill="#2a2a2a" textLength="4.24" lengthAdjust="spacingAndGlyphs" >0</text>
<text x="383.40" y="153.20" font-size="6.8" text-anchor="middle" font-weight="normal" font-style="normal" fill="#2a2a2a" textLength="8.47" lengthAdjust="spacingAndGlyphs" >10</text>
<text x="414.90" y="153.20" font-size="6.8" text-anchor="middle" font-weight="normal" font-style="normal" fill="#2a2a2a" textLength="8.47" lengthAdjust="spacingAndGlyphs" >20</text>
<text x="446.40" y="153.20" font-size="6.8" text-anchor="middle" font-weight="normal" font-style="normal" fill="#2a2a2a" textLength="8.47" lengthAdjust="spacingAndGlyphs" >30</text>
<text x="477.90" y="153.20" font-size="6.8" text-anchor="middle" font-weight="normal" font-style="normal" fill="#2a2a2a" textLength="8.47" lengthAdjust="spacingAndGlyphs" >40</text>
<text x="509.40" y="153.20" font-size="6.8" text-anchor="middle" font-weight="normal" font-style="normal" fill="#2a2a2a" textLength="8.47" lengthAdjust="spacingAndGlyphs" >50</text>
<text x="432" y="165.9" font-size="8.2" font-weight="bold" text-anchor="middle" fill="#2a2a2a" textLength="51.5" lengthAdjust="spacingAndGlyphs">CD302+ MNC (%)</text>
<text transform="translate(331.3,85) rotate(-90)" font-size="6.4" font-weight="bold" text-anchor="middle" fill="#2a2a2a" textLength="58" lengthAdjust="spacingAndGlyphs">CD302+ myeloid (%)</text>
<text x="368.00" y="34.40" font-size="7.0" text-anchor="start" font-weight="normal" font-style="normal" fill="#2a2a2a" textLength="25.00" lengthAdjust="spacingAndGlyphs" >r = 0.81</text>
<text x="368" y="45.9" font-size="7.0" fill="#2a2a2a" textLength="30.6" lengthAdjust="spacingAndGlyphs"><tspan font-style="italic">P</tspan> &lt; .0001</text>
<line x1="360.00" y1="135.60" x2="475.00" y2="65.20" stroke="#E39A3C" stroke-width="0.9"/>
<circle cx="475.20" cy="51.70" r="1.4" fill="#E68C1E" stroke="#B8701C" stroke-width="0.5"/>
<circle cx="445.30" cy="68.60" r="1.4" fill="#E68C1E" stroke="#B8701C" stroke-width="0.5"/>
<circle cx="462.20" cy="66.80" r="1.4" fill="#E68C1E" stroke="#B8701C" stroke-width="0.5"/>
<circle cx="433.40" cy="122.80" r="1.4" fill="#E68C1E" stroke="#B8701C" stroke-width="0.5"/>
<circle cx="422.50" cy="110.30" r="1.4" fill="#E68C1E" stroke="#B8701C" stroke-width="0.5"/>
<circle cx="418.60" cy="118.40" r="1.4" fill="#E68C1E" stroke="#B8701C" stroke-width="0.5"/>
<circle cx="386.70" cy="90.30" r="1.4" fill="#E68C1E" stroke="#B8701C" stroke-width="0.5"/>
<circle cx="412.20" cy="88.40" r="1.4" fill="#E68C1E" stroke="#B8701C" stroke-width="0.5"/>
<circle cx="396.50" cy="98.70" r="1.4" fill="#E68C1E" stroke="#B8701C" stroke-width="0.5"/>
<circle cx="407.70" cy="98.70" r="1.4" fill="#E68C1E" stroke="#B8701C" stroke-width="0.5"/>
<circle cx="398.70" cy="101.90" r="1.4" fill="#E68C1E" stroke="#B8701C" stroke-width="0.5"/>
<circle cx="396.10" cy="102.50" r="1.4" fill="#E68C1E" stroke="#B8701C" stroke-width="0.5"/>
<circle cx="394.20" cy="104.50" r="1.4" fill="#E68C1E" stroke="#B8701C" stroke-width="0.5"/>
<circle cx="383.60" cy="107.00" r="1.4" fill="#E68C1E" stroke="#B8701C" stroke-width="0.5"/>
<circle cx="388.40" cy="108.10" r="1.4" fill="#E68C1E" stroke="#B8701C" stroke-width="0.5"/>
<circle cx="392.20" cy="109.00" r="1.4" fill="#E68C1E" stroke="#B8701C" stroke-width="0.5"/>
<circle cx="399.30" cy="108.30" r="1.4" fill="#E68C1E" stroke="#B8701C" stroke-width="0.5"/>
<circle cx="393.90" cy="110.60" r="1.4" fill="#E68C1E" stroke="#B8701C" stroke-width="0.5"/>
<circle cx="406.00" cy="109.40" r="1.4" fill="#E68C1E" stroke="#B8701C" stroke-width="0.5"/>
<circle cx="389.30" cy="112.40" r="1.4" fill="#E68C1E" stroke="#B8701C" stroke-width="0.5"/>
<circle cx="393.50" cy="113.70" r="1.4" fill="#E68C1E" stroke="#B8701C" stroke-width="0.5"/>
<circle cx="403.80" cy="114.50" r="1.4" fill="#E68C1E" stroke="#B8701C" stroke-width="0.5"/>
<circle cx="392.20" cy="116.70" r="1.4" fill="#E68C1E" stroke="#B8701C" stroke-width="0.5"/>
<circle cx="394.40" cy="118.60" r="1.4" fill="#E68C1E" stroke="#B8701C" stroke-width="0.5"/>
<circle cx="396.70" cy="119.90" r="1.4" fill="#E68C1E" stroke="#B8701C" stroke-width="0.5"/>
<circle cx="405.50" cy="119.90" r="1.4" fill="#E68C1E" stroke="#B8701C" stroke-width="0.5"/>
<circle cx="390.60" cy="120.20" r="1.4" fill="#E68C1E" stroke="#B8701C" stroke-width="0.5"/>
<circle cx="387.10" cy="119.30" r="1.4" fill="#E68C1E" stroke="#B8701C" stroke-width="0.5"/>
<circle cx="387.50" cy="122.50" r="1.4" fill="#E68C1E" stroke="#B8701C" stroke-width="0.5"/>
<circle cx="382.30" cy="121.80" r="1.4" fill="#E68C1E" stroke="#B8701C" stroke-width="0.5"/>
<circle cx="381.90" cy="124.40" r="1.4" fill="#E68C1E" stroke="#B8701C" stroke-width="0.5"/>
<circle cx="374.60" cy="110.70" r="1.4" fill="#E68C1E" stroke="#B8701C" stroke-width="0.5"/>
<circle cx="376.50" cy="114.60" r="1.4" fill="#E68C1E" stroke="#B8701C" stroke-width="0.5"/>
<circle cx="372.50" cy="119.80" r="1.4" fill="#E68C1E" stroke="#B8701C" stroke-width="0.5"/>
<circle cx="379.20" cy="120.40" r="1.4" fill="#E68C1E" stroke="#B8701C" stroke-width="0.5"/>
<circle cx="381.00" cy="122.20" r="1.4" fill="#E68C1E" stroke="#B8701C" stroke-width="0.5"/>
<circle cx="374.40" cy="124.00" r="1.4" fill="#E68C1E" stroke="#B8701C" stroke-width="0.5"/>
<circle cx="370.70" cy="125.80" r="1.4" fill="#E68C1E" stroke="#B8701C" stroke-width="0.5"/>
<circle cx="366.90" cy="125.80" r="1.4" fill="#E68C1E" stroke="#B8701C" stroke-width="0.5"/>
<circle cx="367.70" cy="128.30" r="1.4" fill="#E68C1E" stroke="#B8701C" stroke-width="0.5"/>
<circle cx="365.30" cy="129.50" r="1.4" fill="#E68C1E" stroke="#B8701C" stroke-width="0.5"/>
<circle cx="363.50" cy="131.30" r="1.4" fill="#E68C1E" stroke="#B8701C" stroke-width="0.5"/>
<circle cx="361.70" cy="133.70" r="1.4" fill="#E68C1E" stroke="#B8701C" stroke-width="0.5"/>
<circle cx="359.80" cy="135.50" r="1.4" fill="#E68C1E" stroke="#B8701C" stroke-width="0.5"/>
<circle cx="382.20" cy="135.50" r="1.4" fill="#E68C1E" stroke="#B8701C" stroke-width="0.5"/>
<circle cx="362.00" cy="135.80" r="1.4" fill="#E68C1E" stroke="#B8701C" stroke-width="0.5"/>
<circle cx="383.40" cy="106.90" r="1.4" fill="#E68C1E" stroke="#B8701C" stroke-width="0.5"/>
<line x1="41.40" y1="245.30" x2="41.40" y2="355.20" stroke="#2a2a2a" stroke-width="1"/>
<line x1="40.90" y1="354.60" x2="203.50" y2="354.60" stroke="#2a2a2a" stroke-width="1"/>
<line x1="38.40" y1="354.50" x2="41.40" y2="354.50" stroke="#2a2a2a" stroke-width="0.9"/>
<text x="36.00" y="356.95" font-size="6.8" text-anchor="end" font-weight="normal" font-style="normal" fill="#2a2a2a" textLength="4.24" lengthAdjust="spacingAndGlyphs" >0</text>
<line x1="38.40" y1="318.95" x2="41.40" y2="318.95" stroke="#2a2a2a" stroke-width="0.9"/>
<text x="36.00" y="321.40" font-size="6.8" text-anchor="end" font-weight="normal" font-style="normal" fill="#2a2a2a" textLength="4.24" lengthAdjust="spacingAndGlyphs" >5</text>
<line x1="38.40" y1="283.40" x2="41.40" y2="283.40" stroke="#2a2a2a" stroke-width="0.9"/>
<text x="36.00" y="285.85" font-size="6.8" text-anchor="end" font-weight="normal" font-style="normal" fill="#2a2a2a" textLength="8.47" lengthAdjust="spacingAndGlyphs" >10</text>
<line x1="38.40" y1="247.85" x2="41.40" y2="247.85" stroke="#2a2a2a" stroke-width="0.9"/>
<text x="36.00" y="250.30" font-size="6.8" text-anchor="end" font-weight="normal" font-style="normal" fill="#2a2a2a" textLength="8.47" lengthAdjust="spacingAndGlyphs" >15</text>
<line x1="41.50" y1="354.60" x2="41.50" y2="357.10" stroke="#2a2a2a" stroke-width="0.9"/>
<text x="41.50" y="367.10" font-size="6.8" text-anchor="middle" font-weight="normal" font-style="normal" fill="#2a2a2a" textLength="4.24" lengthAdjust="spacingAndGlyphs" >0</text>
<line x1="73.40" y1="354.60" x2="73.40" y2="357.10" stroke="#2a2a2a" stroke-width="0.9"/>
<text x="73.40" y="367.10" font-size="6.8" text-anchor="middle" font-weight="normal" font-style="normal" fill="#2a2a2a" textLength="8.47" lengthAdjust="spacingAndGlyphs" >10</text>
<line x1="105.30" y1="354.60" x2="105.30" y2="357.10" stroke="#2a2a2a" stroke-width="0.9"/>
<text x="105.30" y="367.10" font-size="6.8" text-anchor="middle" font-weight="normal" font-style="normal" fill="#2a2a2a" textLength="8.47" lengthAdjust="spacingAndGlyphs" >20</text>
<line x1="137.20" y1="354.60" x2="137.20" y2="357.10" stroke="#2a2a2a" stroke-width="0.9"/>
<text x="137.20" y="367.10" font-size="6.8" text-anchor="middle" font-weight="normal" font-style="normal" fill="#2a2a2a" textLength="8.47" lengthAdjust="spacingAndGlyphs" >30</text>
<line x1="169.10" y1="354.60" x2="169.10" y2="357.10" stroke="#2a2a2a" stroke-width="0.9"/>
<text x="169.10" y="367.10" font-size="6.8" text-anchor="middle" font-weight="normal" font-style="normal" fill="#2a2a2a" textLength="8.47" lengthAdjust="spacingAndGlyphs" >40</text>
<line x1="201.00" y1="354.60" x2="201.00" y2="357.10" stroke="#2a2a2a" stroke-width="0.9"/>
<text x="201.00" y="367.10" font-size="6.8" text-anchor="middle" font-weight="normal" font-style="normal" fill="#2a2a2a" textLength="8.47" lengthAdjust="spacingAndGlyphs" >50</text>
<line x1="57.45" y1="354.60" x2="57.45" y2="356.80" stroke="#2a2a2a" stroke-width="0.9"/>
<line x1="89.35" y1="354.60" x2="89.35" y2="356.80" stroke="#2a2a2a" stroke-width="0.9"/>
<line x1="121.25" y1="354.60" x2="121.25" y2="356.80" stroke="#2a2a2a" stroke-width="0.9"/>
<line x1="153.15" y1="354.60" x2="153.15" y2="356.80" stroke="#2a2a2a" stroke-width="0.9"/>
<line x1="185.05" y1="354.60" x2="185.05" y2="356.80" stroke="#2a2a2a" stroke-width="0.9"/>
<text x="122.8" y="379.3" font-size="8.2" font-weight="bold" text-anchor="middle" fill="#2a2a2a" textLength="52" lengthAdjust="spacingAndGlyphs">CD302+ MNC (%)</text>
<text transform="translate(24.3,300.3) rotate(-90)" font-size="6.3" font-weight="bold" text-anchor="middle" fill="#2a2a2a" textLength="68" lengthAdjust="spacingAndGlyphs">CD302+ lymphocyte (%)</text>
<text x="151.30" y="251.20" font-size="7.0" text-anchor="start" font-weight="normal" font-style="normal" fill="#2a2a2a" textLength="21.00" lengthAdjust="spacingAndGlyphs" >r = 0.1</text>
<text x="151.7" y="262.2" font-size="7.0" fill="#2a2a2a" textLength="24.0" lengthAdjust="spacingAndGlyphs"><tspan font-style="italic">P</tspan> = .49</text>
<line x1="49.70" y1="337.50" x2="166.80" y2="328.80" stroke="#E39A3C" stroke-width="0.9"/>
<circle cx="98.10" cy="264.10" r="1.4" fill="#E68C1E" stroke="#B8701C" stroke-width="0.5"/>
<circle cx="73.30" cy="275.30" r="1.4" fill="#E68C1E" stroke="#B8701C" stroke-width="0.5"/>
<circle cx="89.50" cy="299.40" r="1.4" fill="#E68C1E" stroke="#B8701C" stroke-width="0.5"/>
<circle cx="78.80" cy="312.10" r="1.4" fill="#E68C1E" stroke="#B8701C" stroke-width="0.5"/>
<circle cx="77.30" cy="319.50" r="1.4" fill="#E68C1E" stroke="#B8701C" stroke-width="0.5"/>
<circle cx="69.30" cy="322.50" r="1.4" fill="#E68C1E" stroke="#B8701C" stroke-width="0.5"/>
<circle cx="68.70" cy="324.50" r="1.4" fill="#E68C1E" stroke="#B8701C" stroke-width="0.5"/>
<circle cx="61.60" cy="325.70" r="1.4" fill="#E68C1E" stroke="#B8701C" stroke-width="0.5"/>
<circle cx="87.10" cy="328.40" r="1.4" fill="#E68C1E" stroke="#B8701C" stroke-width="0.5"/>
<circle cx="77.00" cy="331.30" r="1.4" fill="#E68C1E" stroke="#B8701C" stroke-width="0.5"/>
<circle cx="77.30" cy="333.50" r="1.4" fill="#E68C1E" stroke="#B8701C" stroke-width="0.5"/>
<circle cx="72.00" cy="334.30" r="1.4" fill="#E68C1E" stroke="#B8701C" stroke-width="0.5"/>
<circle cx="66.90" cy="334.90" r="1.4" fill="#E68C1E" stroke="#B8701C" stroke-width="0.5"/>
<circle cx="61.60" cy="336.10" r="1.4" fill="#E68C1E" stroke="#B8701C" stroke-width="0.5"/>
<circle cx="83.50" cy="335.90" r="1.4" fill="#E68C1E" stroke="#B8701C" stroke-width="0.5"/>
<circle cx="84.70" cy="337.50" r="1.4" fill="#E68C1E" stroke="#B8701C" stroke-width="0.5"/>
<circle cx="87.10" cy="338.50" r="1.4" fill="#E68C1E" stroke="#B8701C" stroke-width="0.5"/>
<circle cx="96.00" cy="337.00" r="1.4" fill="#E68C1E" stroke="#B8701C" stroke-width="0.5"/>
<circle cx="94.60" cy="339.10" r="1.4" fill="#E68C1E" stroke="#B8701C" stroke-width="0.5"/>
<circle cx="79.40" cy="340.60" r="1.4" fill="#E68C1E" stroke="#B8701C" stroke-width="0.5"/>
<circle cx="81.80" cy="341.40" r="1.4" fill="#E68C1E" stroke="#B8701C" stroke-width="0.5"/>
<circle cx="53.30" cy="341.80" r="1.4" fill="#E68C1E" stroke="#B8701C" stroke-width="0.5"/>
<circle cx="54.50" cy="343.80" r="1.4" fill="#E68C1E" stroke="#B8701C" stroke-width="0.5"/>
<circle cx="85.30" cy="342.00" r="1.4" fill="#E68C1E" stroke="#B8701C" stroke-width="0.5"/>
<circle cx="86.50" cy="343.20" r="1.4" fill="#E68C1E" stroke="#B8701C" stroke-width="0.5"/>
<circle cx="49.70" cy="345.30" r="1.4" fill="#E68C1E" stroke="#B8701C" stroke-width="0.5"/>
<circle cx="62.60" cy="344.20" r="1.4" fill="#E68C1E" stroke="#B8701C" stroke-width="0.5"/>
<circle cx="82.70" cy="344.60" r="1.4" fill="#E68C1E" stroke="#B8701C" stroke-width="0.5"/>
<circle cx="103.10" cy="343.20" r="1.4" fill="#E68C1E" stroke="#B8701C" stroke-width="0.5"/>
<circle cx="89.80" cy="346.50" r="1.4" fill="#E68C1E" stroke="#B8701C" stroke-width="0.5"/>
<circle cx="72.90" cy="347.00" r="1.4" fill="#E68C1E" stroke="#B8701C" stroke-width="0.5"/>
<circle cx="64.90" cy="347.90" r="1.4" fill="#E68C1E" stroke="#B8701C" stroke-width="0.5"/>
<circle cx="96.00" cy="348.20" r="1.4" fill="#E68C1E" stroke="#B8701C" stroke-width="0.5"/>
<circle cx="87.50" cy="349.70" r="1.4" fill="#E68C1E" stroke="#B8701C" stroke-width="0.5"/>
<circle cx="52.10" cy="350.90" r="1.4" fill="#E68C1E" stroke="#B8701C" stroke-width="0.5"/>
<circle cx="56.90" cy="350.30" r="1.4" fill="#E68C1E" stroke="#B8701C" stroke-width="0.5"/>
<circle cx="73.50" cy="350.60" r="1.4" fill="#E68C1E" stroke="#B8701C" stroke-width="0.5"/>
<circle cx="124.20" cy="318.90" r="1.4" fill="#E68C1E" stroke="#B8701C" stroke-width="0.5"/>
<circle cx="137.30" cy="320.10" r="1.4" fill="#E68C1E" stroke="#B8701C" stroke-width="0.5"/>
<circle cx="109.60" cy="337.40" r="1.4" fill="#E68C1E" stroke="#B8701C" stroke-width="0.5"/>
<circle cx="153.50" cy="338.10" r="1.4" fill="#E68C1E" stroke="#B8701C" stroke-width="0.5"/>
<circle cx="102.70" cy="343.20" r="1.4" fill="#E68C1E" stroke="#B8701C" stroke-width="0.5"/>
<circle cx="113.50" cy="349.20" r="1.4" fill="#E68C1E" stroke="#B8701C" stroke-width="0.5"/>
<circle cx="166.80" cy="348.90" r="1.4" fill="#E68C1E" stroke="#B8701C" stroke-width="0.5"/>
<line x1="256.40" y1="211.90" x2="256.40" y2="355.00" stroke="#333" stroke-width="1.15"/>
<line x1="255.90" y1="354.30" x2="351.90" y2="354.30" stroke="#222" stroke-width="1.25"/>
<line x1="253.60" y1="353.90" x2="256.60" y2="353.90" stroke="#333" stroke-width="0.9"/>
<text x="250.40" y="356.30" font-size="6.8" text-anchor="end" font-weight="normal" font-style="normal" fill="#2a2a2a" textLength="4.24" lengthAdjust="spacingAndGlyphs" >0</text>
<line x1="253.60" y1="307.56" x2="256.60" y2="307.56" stroke="#333" stroke-width="0.9"/>
<text x="250.40" y="309.96" font-size="6.8" text-anchor="end" font-weight="normal" font-style="normal" fill="#2a2a2a" textLength="8.47" lengthAdjust="spacingAndGlyphs" >20</text>
<line x1="253.60" y1="261.22" x2="256.60" y2="261.22" stroke="#333" stroke-width="0.9"/>
<text x="250.40" y="263.62" font-size="6.8" text-anchor="end" font-weight="normal" font-style="normal" fill="#2a2a2a" textLength="8.47" lengthAdjust="spacingAndGlyphs" >40</text>
<line x1="253.60" y1="214.88" x2="256.60" y2="214.88" stroke="#333" stroke-width="0.9"/>
<text x="250.40" y="217.28" font-size="6.8" text-anchor="end" font-weight="normal" font-style="normal" fill="#2a2a2a" textLength="8.47" lengthAdjust="spacingAndGlyphs" >60</text>
<line x1="275.50" y1="284.50" x2="275.50" y2="341.40" stroke="#3c3c3c" stroke-width="0.9"/>
<line x1="271.00" y1="284.50" x2="280.00" y2="284.50" stroke="#3c3c3c" stroke-width="0.9"/>
<line x1="271.00" y1="341.40" x2="280.00" y2="341.40" stroke="#3c3c3c" stroke-width="0.9"/>
<rect x="267.00" y="313.00" width="17.00" height="19.60" fill="#3DB54A" stroke="none" stroke-width="0"/>
<line x1="267.00" y1="329.00" x2="284.00" y2="329.00" stroke="#17521d" stroke-width="1.3"/>
<line x1="275.50" y1="354.00" x2="275.50" y2="356.30" stroke="#333" stroke-width="0.9"/>
<line x1="304.00" y1="235.30" x2="304.00" y2="347.20" stroke="#3c3c3c" stroke-width="0.9"/>
<line x1="299.50" y1="235.30" x2="308.50" y2="235.30" stroke="#3c3c3c" stroke-width="0.9"/>
<line x1="299.50" y1="347.20" x2="308.50" y2="347.20" stroke="#3c3c3c" stroke-width="0.9"/>
<rect x="295.20" y="289.30" width="17.50" height="34.40" fill="#D81E45" stroke="none" stroke-width="0"/>
<line x1="295.20" y1="309.90" x2="312.70" y2="309.90" stroke="#7a0a22" stroke-width="1.3"/>
<line x1="304.00" y1="354.00" x2="304.00" y2="356.30" stroke="#333" stroke-width="0.9"/>
<line x1="332.80" y1="287.40" x2="332.80" y2="347.70" stroke="#3c3c3c" stroke-width="0.9"/>
<line x1="328.30" y1="287.40" x2="337.30" y2="287.40" stroke="#3c3c3c" stroke-width="0.9"/>
<line x1="328.30" y1="347.70" x2="337.30" y2="347.70" stroke="#3c3c3c" stroke-width="0.9"/>
<rect x="324.20" y="314.00" width="17.00" height="16.70" fill="#1F5596" stroke="none" stroke-width="0"/>
<line x1="324.20" y1="322.00" x2="341.20" y2="322.00" stroke="#0b2a50" stroke-width="1.3"/>
<line x1="332.80" y1="354.00" x2="332.80" y2="356.30" stroke="#333" stroke-width="0.9"/>
<polyline points="277.2,224.8 277.2,215.6 334.6,215.6 334.6,259" fill="none" stroke="#444" stroke-width="0.9"/>
<polyline points="302.6,228.8 302.6,226.7 334.6,226.7" fill="none" stroke="#444" stroke-width="0.9"/>
<text x="280" y="213.6" font-size="7.0" fill="#2a2a2a" textLength="23.2" lengthAdjust="spacingAndGlyphs"><tspan font-style="italic">P</tspan> = .61</text>
<text x="298.6" y="224.6" font-size="7.0" fill="#2a2a2a" textLength="27.8" lengthAdjust="spacingAndGlyphs"><tspan font-style="italic">P</tspan> = .037</text>
<text x="275.50" y="366.60" font-size="6.9" text-anchor="middle" font-weight="normal" font-style="normal" fill="#2a2a2a" textLength="15.72" lengthAdjust="spacingAndGlyphs" >PR-1</text>
<text x="275.70" y="376.10" font-size="6.9" text-anchor="middle" font-weight="normal" font-style="normal" fill="#2a2a2a" textLength="22.30" lengthAdjust="spacingAndGlyphs" >N = 11</text>
<text x="304.00" y="366.60" font-size="6.9" text-anchor="middle" font-weight="normal" font-style="normal" fill="#2a2a2a" textLength="15.72" lengthAdjust="spacingAndGlyphs" >PR-2</text>
<text x="304.20" y="376.10" font-size="6.9" text-anchor="middle" font-weight="normal" font-style="normal" fill="#2a2a2a" textLength="22.30" lengthAdjust="spacingAndGlyphs" >N = 14</text>
<text x="332.80" y="366.60" font-size="6.9" text-anchor="middle" font-weight="normal" font-style="normal" fill="#2a2a2a" textLength="10.35" lengthAdjust="spacingAndGlyphs" >GR</text>
<text x="333.00" y="376.10" font-size="6.9" text-anchor="middle" font-weight="normal" font-style="normal" fill="#2a2a2a" textLength="22.30" lengthAdjust="spacingAndGlyphs" >N = 22</text>
<text transform="translate(234.2,285.6) rotate(-90)" font-size="6.3" font-weight="bold" text-anchor="middle" fill="#2a2a2a" textLength="56" lengthAdjust="spacingAndGlyphs">CD302+ myeloid (%)</text>
<line x1="401.40" y1="212.20" x2="401.40" y2="355.00" stroke="#333" stroke-width="1.15"/>
<line x1="400.90" y1="354.30" x2="497.30" y2="354.30" stroke="#222" stroke-width="1.25"/>
<line x1="398.30" y1="353.80" x2="401.30" y2="353.80" stroke="#333" stroke-width="0.9"/>
<text x="395.30" y="356.20" font-size="6.8" text-anchor="end" font-weight="normal" font-style="normal" fill="#2a2a2a" textLength="4.24" lengthAdjust="spacingAndGlyphs" >0</text>
<line x1="398.30" y1="307.46" x2="401.30" y2="307.46" stroke="#333" stroke-width="0.9"/>
<text x="395.30" y="309.86" font-size="6.8" text-anchor="end" font-weight="normal" font-style="normal" fill="#2a2a2a" textLength="8.47" lengthAdjust="spacingAndGlyphs" >20</text>
<line x1="398.30" y1="261.12" x2="401.30" y2="261.12" stroke="#333" stroke-width="0.9"/>
<text x="395.30" y="263.52" font-size="6.8" text-anchor="end" font-weight="normal" font-style="normal" fill="#2a2a2a" textLength="8.47" lengthAdjust="spacingAndGlyphs" >40</text>
<line x1="398.30" y1="214.78" x2="401.30" y2="214.78" stroke="#333" stroke-width="0.9"/>
<text x="395.30" y="217.18" font-size="6.8" text-anchor="end" font-weight="normal" font-style="normal" fill="#2a2a2a" textLength="8.47" lengthAdjust="spacingAndGlyphs" >60</text>
<line x1="420.50" y1="343.60" x2="420.50" y2="351.30" stroke="#3c3c3c" stroke-width="0.9"/>
<line x1="416.00" y1="343.60" x2="425.00" y2="343.60" stroke="#3c3c3c" stroke-width="0.9"/>
<line x1="416.00" y1="351.30" x2="425.00" y2="351.30" stroke="#3c3c3c" stroke-width="0.9"/>
<rect x="411.50" y="346.00" width="17.70" height="3.70" fill="#3DB54A" stroke="none" stroke-width="0"/>
<line x1="411.50" y1="347.70" x2="429.20" y2="347.70" stroke="#17521d" stroke-width="1.3"/>
<circle cx="420.50" cy="328.40" r="1.9" fill="#111" stroke="none" stroke-width="0"/>
<line x1="420.50" y1="354.00" x2="420.50" y2="356.30" stroke="#333" stroke-width="0.9"/>
<line x1="448.80" y1="340.30" x2="448.80" y2="353.40" stroke="#3c3c3c" stroke-width="0.9"/>
<line x1="444.30" y1="340.30" x2="453.30" y2="340.30" stroke="#3c3c3c" stroke-width="0.9"/>
<line x1="444.30" y1="353.40" x2="453.30" y2="353.40" stroke="#3c3c3c" stroke-width="0.9"/>
<rect x="440.10" y="344.10" width="18.00" height="7.20" fill="#D81E45" stroke="none" stroke-width="0"/>
<line x1="440.10" y1="348.50" x2="458.10" y2="348.50" stroke="#7a0a22" stroke-width="1.3"/>
<circle cx="448.80" cy="325.10" r="1.9" fill="#111" stroke="none" stroke-width="0"/>
<line x1="448.80" y1="354.00" x2="448.80" y2="356.30" stroke="#333" stroke-width="0.9"/>
<line x1="477.70" y1="343.10" x2="477.70" y2="352.80" stroke="#3c3c3c" stroke-width="0.9"/>
<line x1="473.20" y1="343.10" x2="482.20" y2="343.10" stroke="#3c3c3c" stroke-width="0.9"/>
<line x1="473.20" y1="352.80" x2="482.20" y2="352.80" stroke="#3c3c3c" stroke-width="0.9"/>
<rect x="469.00" y="348.50" width="17.40" height="2.80" fill="#1F5596" stroke="none" stroke-width="0"/>
<line x1="469.00" y1="350.10" x2="486.40" y2="350.10" stroke="#0b2a50" stroke-width="1.3"/>
<circle cx="477.70" cy="336.20" r="1.5" fill="#111" stroke="none" stroke-width="0"/>
<line x1="477.70" y1="354.00" x2="477.70" y2="356.30" stroke="#333" stroke-width="0.9"/>
<polyline points="417.7,289.7 417.7,282.7 475.7,282.7 475.7,324.2" fill="none" stroke="#555" stroke-width="0.9"/>
<polyline points="443.8,294.5 443.8,292.6 475.7,292.6" fill="none" stroke="#555" stroke-width="0.9"/>
<text x="420.5" y="278.4" font-size="7.0" fill="#2a2a2a" textLength="24.0" lengthAdjust="spacingAndGlyphs"><tspan font-style="italic">P</tspan> = .18</text>
<text x="439.5" y="288.9" font-size="7.0" fill="#2a2a2a" textLength="24.6" lengthAdjust="spacingAndGlyphs"><tspan font-style="italic">P</tspan> = .62</text>
<text x="420.50" y="366.70" font-size="6.9" text-anchor="middle" font-weight="normal" font-style="normal" fill="#2a2a2a" textLength="15.72" lengthAdjust="spacingAndGlyphs" >PR-1</text>
<text x="448.80" y="366.70" font-size="6.9" text-anchor="middle" font-weight="normal" font-style="normal" fill="#2a2a2a" textLength="15.72" lengthAdjust="spacingAndGlyphs" >PR-2</text>
<text x="477.70" y="366.70" font-size="6.9" text-anchor="middle" font-weight="normal" font-style="normal" fill="#2a2a2a" textLength="10.35" lengthAdjust="spacingAndGlyphs" >GR</text>
<text transform="translate(379.4,284.5) rotate(-90)" font-size="6.3" font-weight="bold" text-anchor="middle" fill="#2a2a2a" textLength="72" lengthAdjust="spacingAndGlyphs">CD302+ lymphocyte (%)</text>
<rect x="0.5" y="0.5" width="519" height="387" fill="none" stroke="#5a5a5a" stroke-width="1"/>
</svg></body></html>
